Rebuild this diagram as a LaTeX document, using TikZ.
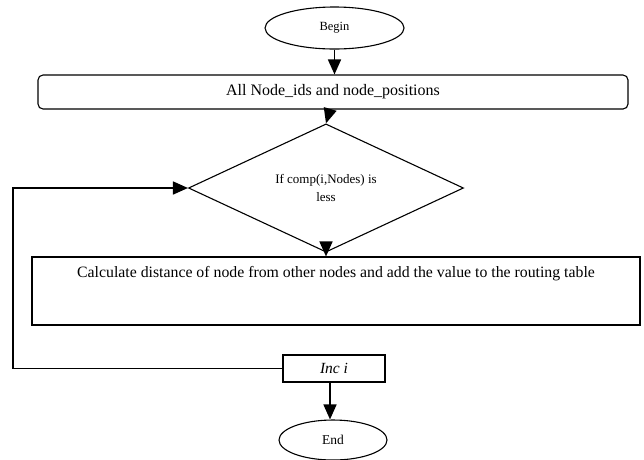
\documentclass[tikz,border=0pt]{standalone}
\usepackage{fontspec}
\setmainfont{Liberation Serif}
\usetikzlibrary{arrows.meta,positioning,shapes.geometric}

\begin{document}
\begin{tikzpicture}[x=1pt,y=1pt,
    terminal/.style={draw,ellipse,line width=1.1pt,inner sep=0pt},
    process/.style={draw,rectangle,line width=1.1pt,inner sep=0pt},
    decision/.style={draw,diamond,line width=1.1pt,inner sep=0pt,align=center},
    flow/.style={-{Triangle[width=13pt,length=15pt]},line width=1.6pt}]
    \useasboundingbox (0,0) rectangle (644,-459);
    % Terminals
    \node[terminal,minimum width=139pt,minimum height=42pt,font=\fontsize{12.5}{14}\selectfont] (begin) at (334.5,-28) {Begin};
    \node[terminal,minimum width=108pt,minimum height=40pt,font=\fontsize{13.5}{15}\selectfont] (finish) at (333,-440) {End};
    % Input box
    \node[process,rounded corners=5pt,minimum width=590pt,minimum height=34pt,font=\fontsize{16}{18}\selectfont] (alldata) at (333,-92) {All Node\_ids and node\_positions};
    % Decision
    \node[decision,minimum width=275pt,minimum height=79pt,font=\fontsize{13}{17.5}\selectfont] (cond) at (326,-188) {If comp(i,Nodes) is\\ less};
    % Routing table step
    \node[process,minimum width=608pt,minimum height=68pt,
      label={[anchor=north,inner sep=0pt,yshift=-10pt,font=\fontsize{15.8}{18}\selectfont]north:{Calculate distance of node from other nodes and add the value to the routing table}}] (calc) at (336,-291) {};
    % Increment
    \node[process,minimum width=102pt,minimum height=27pt,font=\fontsize{15.5}{17}\selectfont\itshape] (inc) at (334,-368.5) {Inc i};
    % Connectors
    \draw[flow] (begin.south) -- (begin.south |- alldata.north);
    \draw[flow] ([xshift=-3pt]alldata.south) -- (cond.north);
    \draw[flow] (cond.south) -- (cond.south |- calc.north);
    \draw[flow] ([xshift=-4pt]inc.south) -- ([xshift=-4pt]inc.south |- finish.north);
    % Loop back
    \coordinate (loopcorner) at (13,-368.5);
    \draw[flow] (inc.west) -- (loopcorner) |- (cond.west);
\end{tikzpicture}
\end{document}
